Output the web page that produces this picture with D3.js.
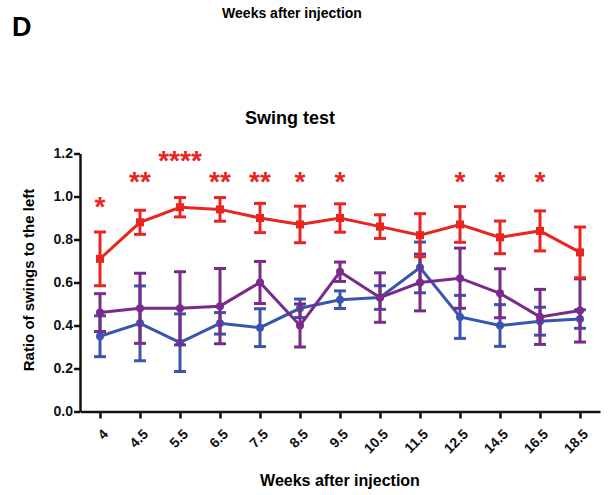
<!DOCTYPE html>
<html>
<head>
<meta charset="utf-8">
<script src="https://cdn.jsdelivr.net/npm/d3@7"></script>
<style>
  body { margin: 0; background: #fff; }
  text { font-family: "Liberation Sans", Arial, sans-serif; font-weight: bold; }
</style>
</head>
<body>
<div id="chart"></div>
<script>
// weeks after injection (categorical)
var weeks = ["4","4.5","5.5","6.5","7.5","8.5","9.5","10.5","11.5","12.5","14.5","16.5","18.5"];

var redMean   = [0.71,0.88,0.95,0.94,0.90,0.87,0.90,0.86,0.82,0.87,0.81,0.84,0.74];
var redErr    = [0.125,0.056,0.045,0.055,0.068,0.085,0.066,0.055,0.10,0.083,0.076,0.093,0.118];
var purpleMean= [0.46,0.48,0.48,0.49,0.60,0.40,0.65,0.53,0.60,0.62,0.55,0.44,0.47];
var purpleErr = [0.088,0.163,0.17,0.175,0.098,0.10,0.045,0.115,0.132,0.14,0.114,0.128,0.147];
var blueMean  = [0.35,0.41,0.32,0.41,0.39,0.48,0.52,0.53,0.67,0.44,0.40,0.42,0.43];
var blueErr   = [0.095,0.174,0.134,0.05,0.088,0.043,0.041,0.055,0.118,0.10,0.097,0.065,0.043];

// significance marks above the red series
var stars     = ["*","**","****","**","**","*","*","","","*","*","*",""];
var starLevel = [0.984,1.10,1.198,1.10,1.10,1.10,1.10,0,0,1.10,1.10,1.10,0];

var yTicks = [0,0.2,0.4,0.6,0.8,1.0,1.2];

var W = 611, H = 495;
var svg = d3.select("#chart").append("svg").attr("width", W).attr("height", H);

var x = d3.scalePoint().domain(weeks).range([80, 600]).padding(0.5);
var y = d3.scaleLinear().domain([0, 1.2]).range([411.5, 153.5]);

// headings
svg.append("text").attr("x", 12).attr("y", 36).style("font-size", "27px").text("D");
svg.append("text").attr("x", 292).attr("y", 18).attr("text-anchor", "middle")
  .style("font-size", "14px").text("Weeks after injection");
svg.append("text").attr("x", 290).attr("y", 124).attr("text-anchor", "middle")
  .style("font-size", "18px").text("Swing test");
svg.append("text").attr("x", 340).attr("y", 486).attr("text-anchor", "middle")
  .style("font-size", "16px").text("Weeks after injection");
svg.append("text").attr("transform", "translate(34,280) rotate(-90)").attr("text-anchor", "middle")
  .style("font-size", "15px").text("Ratio of swings to the left");

// axes
var yAxis = svg.append("g").attr("transform", "translate(80,0)")
  .call(d3.axisLeft(y).tickValues(yTicks).tickFormat(d3.format(".1f")).tickSize(6).tickSizeOuter(0));
var xAxis = svg.append("g").attr("transform", "translate(0,411.5)")
  .call(d3.axisBottom(x).tickSize(7).tickSizeOuter(0));

[yAxis, xAxis].forEach(function(a){
  a.select(".domain").attr("stroke", "#111").attr("stroke-width", 2.5);
  a.selectAll(".tick line").attr("stroke", "#111").attr("stroke-width", 2.5);
  a.selectAll("text").style("font-size", "14px").attr("fill", "#111")
    .style("font-family", "'Liberation Sans', Arial, sans-serif").style("font-weight", "bold");
});
yAxis.selectAll("text").attr("x", -7);
xAxis.selectAll("text")
  .attr("text-anchor", "end")
  .attr("dy", "0.35em")
  .attr("transform", "translate(5,20) rotate(-45)")
  .attr("x", 0).attr("y", 0);

// series
function drawSeries(mean, err, color, square) {
  var g = svg.append("g");
  var data = weeks.map(function(w, i){ return {w: w, m: mean[i], e: err[i]}; });
  g.append("path").datum(data)
    .attr("fill", "none").attr("stroke", color).attr("stroke-width", 3)
    .attr("d", d3.line().x(function(d){ return x(d.w); }).y(function(d){ return y(d.m); }));
  var eb = g.selectAll(".eb").data(data).enter().append("g");
  eb.append("line")
    .attr("x1", function(d){ return x(d.w); }).attr("x2", function(d){ return x(d.w); })
    .attr("y1", function(d){ return y(d.m + d.e); }).attr("y2", function(d){ return y(d.m - d.e); })
    .attr("stroke", color).attr("stroke-width", 3);
  [1, -1].forEach(function(s){
    eb.append("line")
      .attr("x1", function(d){ return x(d.w) - 6; }).attr("x2", function(d){ return x(d.w) + 6; })
      .attr("y1", function(d){ return y(d.m + s * d.e); }).attr("y2", function(d){ return y(d.m + s * d.e); })
      .attr("stroke", color).attr("stroke-width", 3);
  });
  if (square) {
    eb.append("rect")
      .attr("x", function(d){ return x(d.w) - 4; }).attr("y", function(d){ return y(d.m) - 4; })
      .attr("width", 8).attr("height", 8).attr("fill", color);
  } else {
    eb.append("circle")
      .attr("cx", function(d){ return x(d.w); }).attr("cy", function(d){ return y(d.m); })
      .attr("r", 4).attr("fill", color);
  }
}

drawSeries(blueMean, blueErr, "#3a55ad", false);
drawSeries(purpleMean, purpleErr, "#7a2a8a", false);
drawSeries(redMean, redErr, "#e8261f", true);

// stars
svg.selectAll(".star").data(weeks).enter().append("text")
  .attr("x", function(d){ return x(d); })
  .attr("y", function(d, i){ return y(starLevel[i]) + 16; })
  .attr("text-anchor", "middle")
  .attr("fill", "#e8261f")
  .style("font-size", "28px")
  .text(function(d, i){ return stars[i]; });
</script>
</body>
</html>
